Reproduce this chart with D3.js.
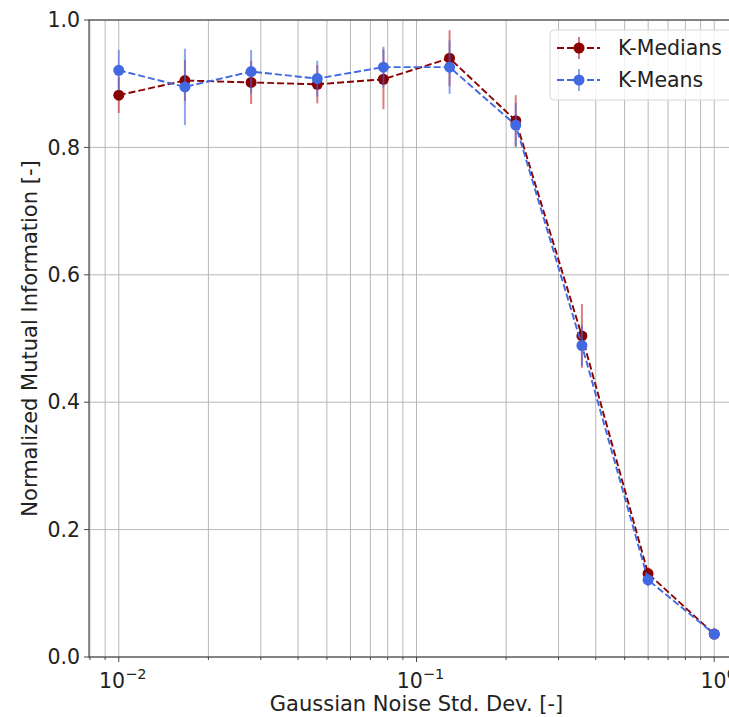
<!DOCTYPE html>
<html><head><meta charset="utf-8">
<script src="https://cdn.jsdelivr.net/npm/d3@7"></script>
<style>body{margin:0;background:#fff}svg{display:block;font-family:"DejaVu Sans",sans-serif}</style>
</head><body>
<svg id="c" width="729" height="717"></svg>
<script>
const noiseStd = [0.01, 0.01668, 0.02783, 0.04642, 0.07743, 0.12915, 0.21544, 0.35938, 0.59948, 1.0];
const kMediansMean = [0.882, 0.905, 0.902, 0.899, 0.907, 0.940, 0.842, 0.504, 0.131, 0.036];
const kMediansErr  = [0.028, 0.032, 0.034, 0.030, 0.047, 0.044, 0.040, 0.050, 0.010, 0.003];
const kMeansMean   = [0.921, 0.895, 0.919, 0.908, 0.926, 0.926, 0.835, 0.489, 0.121, 0.036];
const kMeansErr    = [0.032, 0.060, 0.034, 0.028, 0.032, 0.042, 0.035, 0.032, 0.010, 0.003];
const yTicks = [0.0, 0.2, 0.4, 0.6, 0.8, 1.0];
const xMajor = [0.01, 0.1, 1];
const xLabels = ["−2", "−1", "0"];
const seriesNames = ["K-Medians", "K-Means"];

const svg = d3.select("#c");
const L = 89, R = 744, T = 20, B = 657;
const x = d3.scaleLog().domain([Math.pow(10, -2.1), Math.pow(10, 0.1)]).range([L, R]);
const y = d3.scaleLinear().domain([0, 1]).range([B, T]);

svg.append("defs").append("clipPath").attr("id", "pc")
  .append("rect").attr("x", L).attr("y", T).attr("width", R - L).attr("height", B - T);

const minor = [];
for (let e = -3; e <= 0; e++) for (let m = 2; m <= 9; m++) {
  const v = m * Math.pow(10, e);
  if (v > x.domain()[0] && v < x.domain()[1]) minor.push(v);
}
const grid = svg.append("g").attr("stroke", "#b0b0b0").attr("stroke-width", 0.9);
grid.selectAll(".vmin").data(minor.concat(xMajor)).join("line")
  .attr("x1", d => x(d)).attr("x2", d => x(d)).attr("y1", T).attr("y2", B);
grid.selectAll(".h").data(yTicks).join("line")
  .attr("x1", L).attr("x2", R).attr("y1", d => y(d)).attr("y2", d => y(d));

const series = [
  {name: seriesNames[0], m: kMediansMean, e: kMediansErr, color: "#8b0000", ecolor: "rgba(205,70,70,0.7)"},
  {name: seriesNames[1], m: kMeansMean, e: kMeansErr, color: "#4169e1", ecolor: "rgba(65,105,225,0.6)"}
];
const DASH = "7,3";
const plot = svg.append("g").attr("clip-path", "url(#pc)");
series.forEach(s => {
  const g = plot.append("g");
  const pts = noiseStd.map((v, i) => [v, s.m[i], s.e[i]]);
  g.append("path").datum(pts)
    .attr("d", d3.line().x(d => x(d[0])).y(d => y(d[1])))
    .attr("fill", "none").attr("stroke", s.color).attr("stroke-width", 1.9)
    .attr("stroke-dasharray", DASH);
  g.selectAll(".eb").data(pts).join("line")
    .attr("x1", d => x(d[0])).attr("x2", d => x(d[0]))
    .attr("y1", d => y(d[1] - d[2])).attr("y2", d => y(d[1] + d[2]))
    .attr("stroke", s.ecolor).attr("stroke-width", 2);
  g.selectAll(".pt").data(pts).join("circle")
    .attr("cx", d => x(d[0])).attr("cy", d => y(d[1])).attr("r", 5.5)
    .attr("fill", s.color);
});

const sp = svg.append("g").attr("stroke", "#555").attr("stroke-width", 1.3).attr("fill", "none");
sp.append("rect").attr("x", L).attr("y", T).attr("width", R - L).attr("height", B - T);

const tk = svg.append("g").attr("stroke", "#333").attr("stroke-width", 0.9);
tk.selectAll(".yt").data(yTicks).join("line")
  .attr("x1", L - 5).attr("x2", L).attr("y1", d => y(d)).attr("y2", d => y(d));
tk.selectAll(".xt").data(xMajor).join("line")
  .attr("x1", d => x(d)).attr("x2", d => x(d)).attr("y1", B).attr("y2", B + 5);
tk.selectAll(".xm").data(minor).join("line")
  .attr("x1", d => x(d)).attr("x2", d => x(d)).attr("y1", B).attr("y2", B + 3);

svg.append("g").selectAll("text").data(yTicks).join("text")
  .attr("x", L - 9).attr("y", d => y(d)).attr("dy", "0.35em")
  .attr("text-anchor", "end").attr("font-size", 20.5).attr("fill", "#222")
  .text(d => d.toFixed(1));

const xl = svg.append("g").selectAll("text").data(xMajor).join("text")
  .attr("x", d => x(d) + 4).attr("y", B + 31)
  .attr("text-anchor", "middle").attr("font-size", 20.5).attr("fill", "#222");
xl.append("tspan").text("10");
xl.append("tspan").attr("dy", -9).attr("font-size", 14.5).text((d, i) => xLabels[i]);

svg.append("text").attr("x", (L + R) / 2).attr("y", 711).attr("text-anchor", "middle")
  .attr("font-size", 21).attr("fill", "#222").text("Gaussian Noise Std. Dev. [-]");
svg.append("text").attr("transform", `translate(37,${(T + B) / 2}) rotate(-90)`)
  .attr("text-anchor", "middle").attr("font-size", 21).attr("fill", "#222")
  .text("Normalized Mutual Information [-]");

const lg = svg.append("g");
lg.append("rect").attr("x", 550).attr("y", 30).attr("width", 187).attr("height", 70).attr("rx", 4)
  .attr("fill", "rgba(255,255,255,0.8)").attr("stroke", "#d6d6d6");
series.forEach((s, i) => {
  const yy = 48 + i * 32;
  lg.append("line").attr("x1", 557).attr("x2", 600).attr("y1", yy).attr("y2", yy)
    .attr("stroke", s.color).attr("stroke-width", 1.9).attr("stroke-dasharray", DASH);
  lg.append("line").attr("x1", 579).attr("x2", 579).attr("y1", yy - 11).attr("y2", yy + 11)
    .attr("stroke", s.ecolor).attr("stroke-width", 2);
  lg.append("circle").attr("cx", 579).attr("cy", yy).attr("r", 5.5).attr("fill", s.color);
  lg.append("text").attr("x", 618).attr("y", yy).attr("dy", "0.35em")
    .attr("font-size", 20.5).attr("fill", "#222").text(s.name);
});
</script>
</body></html>
